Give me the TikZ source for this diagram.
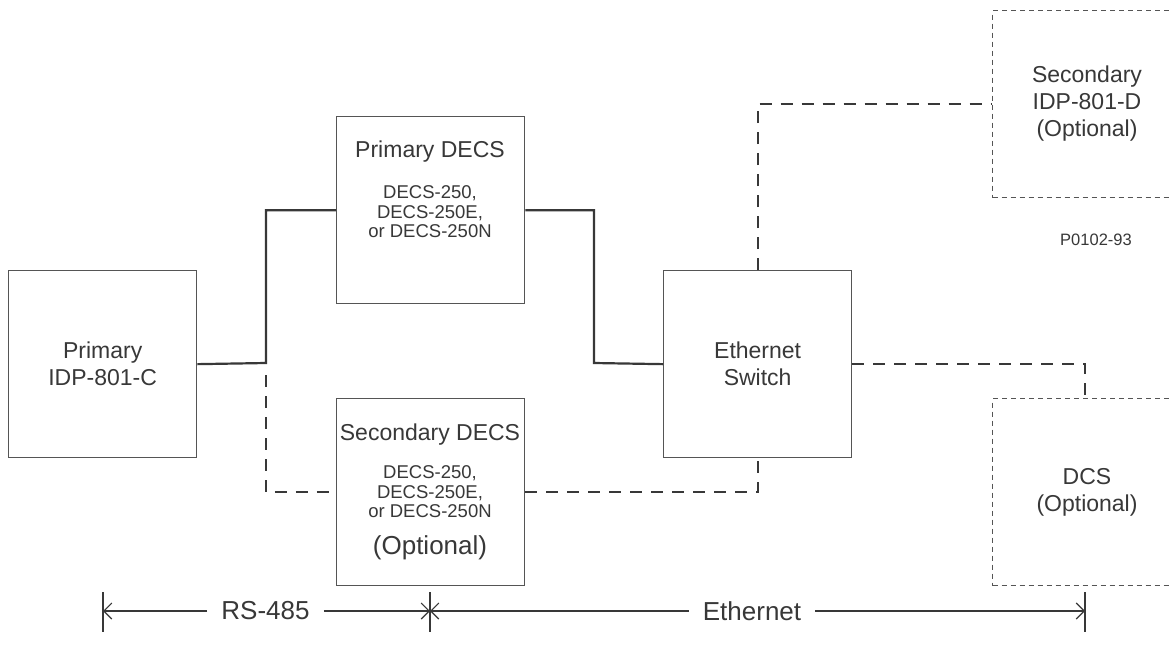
\documentclass[tikz,border=0pt]{standalone}
\usepackage{fontspec}
\setmainfont{Liberation Sans}
\usetikzlibrary{arrows.meta}
\definecolor{txt}{HTML}{383838}
\definecolor{edgec}{HTML}{555555}
\begin{document}
\begin{tikzpicture}[x=1pt,y=-1pt,
  box/.style={draw=edgec,line width=1.3pt,minimum width=188pt,minimum height=187pt,inner sep=0pt,anchor=north west},
  optbox/.style={box,dash pattern=on 5pt off 4pt,line width=1.1pt},
  wire/.style={draw=txt,line width=2.2pt},
  dwire/.style={draw=txt,line width=2.2pt,dash pattern=on 12pt off 9pt},
  lbl/.style={text=txt,font=\fontsize{23}{27}\selectfont,align=center,inner sep=0pt},
  sublbl/.style={text=txt,font=\fontsize{18.5}{19.5}\selectfont,align=center,inner sep=0pt},
  optlbl/.style={text=txt,font=\fontsize{26}{30}\selectfont,inner sep=0pt},
  dimlbl/.style={text=txt,font=\fontsize{26}{30}\selectfont,inner xsep=14pt,inner ysep=0pt},
  ref/.style={text=txt,font=\fontsize{16.5}{18}\selectfont,inner sep=0pt},
  dim/.style={draw=txt,line width=1.1pt},
  dimarrow/.style={dim,-{Straight Barb[length=8pt,width=16pt]}}]
\clip (0,0) rectangle (1172,651);
\fill[white] (0,0) rectangle (1172,651);
% boxes
\node[box] (idp) at (8,270) {};
\node[box] (pdecs) at (336,116) {};
\node[box] (sdecs) at (336,398) {};
\node[box] (sw) at (663,270) {};
\node[optbox] (sidp) at (992,10) {};
\node[optbox] (dcs) at (992,398) {};
% texts
\node[lbl] (idpt) at (idp.center) {Primary\\IDP-801-C};
\node[lbl] (swt) at (sw.center) {Ethernet\\Switch};
\node[lbl] (pdt) at (430,152) {Primary DECS};
\node[sublbl] (pds) at (430,212) {DECS-250,\\DECS-250E,\\or DECS-250N};
\node[lbl] (sdt) at (430,435) {Secondary DECS};
\node[sublbl] (sds) at (430,492) {DECS-250,\\DECS-250E,\\or DECS-250N};
\node[optlbl] (sdo) at (430,548) {(Optional)};
\node[lbl] (sidpt) at (1087,104) {Secondary\\IDP-801-D\\(Optional)};
\node[lbl] (dcst) at (1087,492) {DCS\\(Optional)};
\node[ref] (pref) at (1096,240) {P0102-93};
% junction coordinates
\coordinate (busL) at (266,363);
\coordinate (busP) at (594,363);
% solid connectors
\draw[wire] (idp.east) -- (busL) |- (pdecs.west);
\draw[wire] (pdecs.east) -| (busP) -- (sw.west);
% dashed connectors
\draw[dwire] (266,375) |- (sdecs.west);
\draw[dwire] (sdecs.east) -| (sw.south);
\draw[dwire] (sw.north) |- (sidp.west);
\draw[dwire] (sw.east) -| (dcs.north -| 1085,0);
% dimension line
\coordinate (t1a) at (103,592); \coordinate (t1b) at (103,632);
\coordinate (t2a) at (430,592); \coordinate (t2b) at (430,632);
\coordinate (t3a) at (1085,592); \coordinate (t3b) at (1085,632);
\draw[dim] (t1a) -- (t1b);
\draw[dim] (t2a) -- (t2b);
\draw[dim] (t3a) -- (t3b);
\node[dimlbl] (rs) at (265.5,611) {RS-485};
\node[dimlbl] (eth) at (752,611) {Ethernet};
\draw[dimarrow] (rs.west) -- (rs.west -| t1a);
\draw[dimarrow] (rs.east) -- (rs.east -| t2a);
\draw[dimarrow] (eth.west) -- (eth.west -| t2a);
\draw[dimarrow] (eth.east) -- (eth.east -| t3a);
\end{tikzpicture}
\end{document}
